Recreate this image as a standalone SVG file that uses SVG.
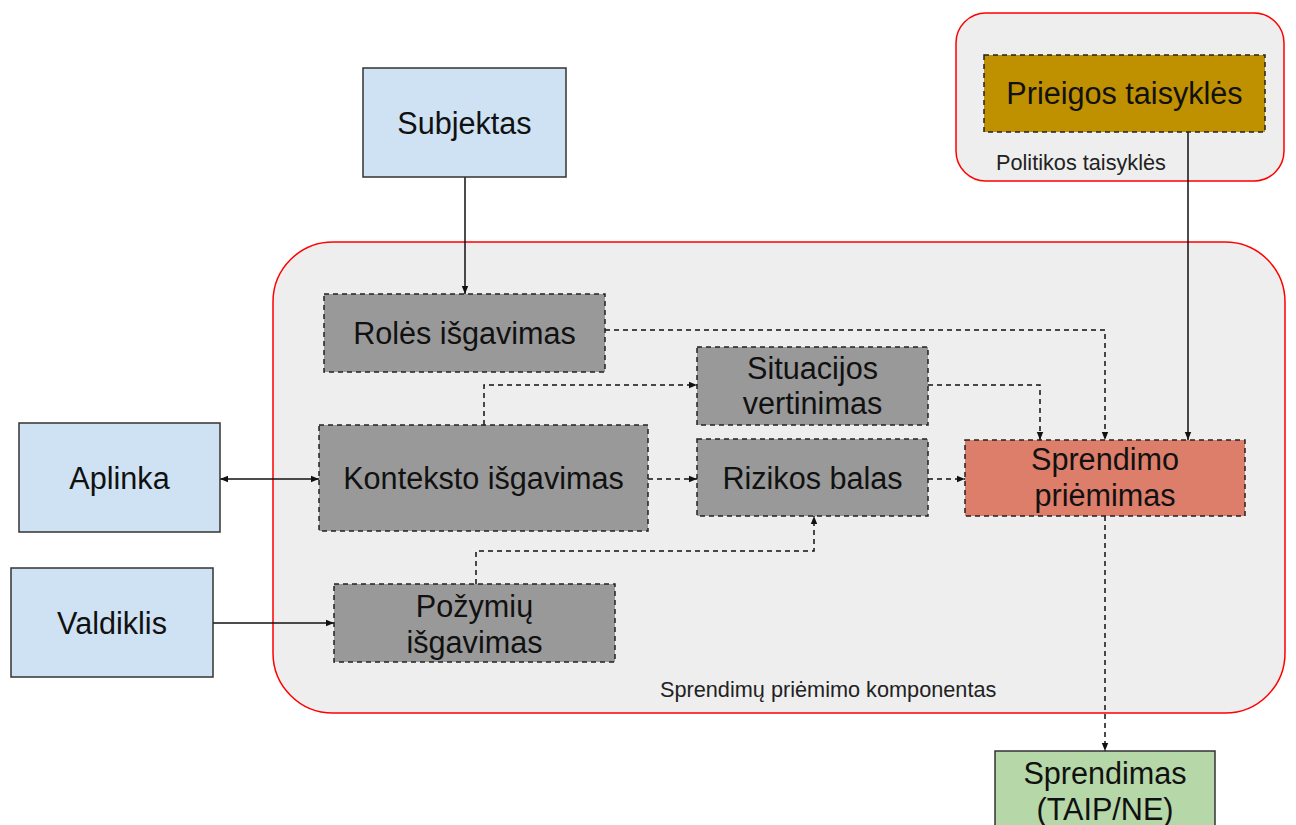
<svg xmlns="http://www.w3.org/2000/svg" width="1296" height="825" viewBox="0 0 1296 825">
<style>
.container{fill:#eeeeee;stroke:#ff0000;stroke-width:1.5}
.blue{fill:#cfe2f3;stroke:#333333;stroke-width:1.5}
.gray{fill:#999999;stroke:#222222;stroke-width:1.5;stroke-dasharray:5,4}
.gold{fill:#bf9000;stroke:#222222;stroke-width:1.5;stroke-dasharray:5,4}
.red{fill:#dd7e6b;stroke:#222222;stroke-width:1.5;stroke-dasharray:5,4}
.green{fill:#b6d7a8;stroke:#333333;stroke-width:1.5}
text{font-family:"Liberation Sans",Arial,sans-serif;fill:#111111}
.t{font-size:30.6px;text-anchor:middle}
.s{font-size:21.7px;fill:#222222}
.solid{fill:none;stroke:#111111;stroke-width:1.5}
.dash{fill:none;stroke:#111111;stroke-width:1.5;stroke-dasharray:5,4}
</style>
<defs>
<marker id="arr" viewBox="0 0 10 10" refX="10" refY="5" markerWidth="8" markerHeight="8" markerUnits="userSpaceOnUse" orient="auto-start-reverse">
<path d="M0,1 L10,5 L0,9 Z" fill="#111111"/>
</marker>
</defs>
<rect width="1296" height="825" fill="#ffffff"/>
<g id="container-politikos">
<rect class="container" x="956" y="13" width="328" height="168" rx="30"/>
<text class="s" x="996" y="170">Politikos taisyklės</text>
</g>
<g id="container-sprendimu">
<rect class="container" x="273" y="242" width="1012" height="471" rx="60"/>
<text class="s" x="660" y="697">Sprendimų priėmimo komponentas</text>
</g>
<g id="connectors">
<path class="solid" d="M465,177 V294" marker-end="url(#arr)"/>
<path class="dash" d="M605,330 H1105 V440" marker-end="url(#arr)"/>
<path class="dash" d="M484,425 V385 H697" marker-end="url(#arr)"/>
<path class="dash" d="M928,385 H1040 V440" marker-end="url(#arr)"/>
<path class="solid" d="M1188,132 V440" marker-end="url(#arr)"/>
<path class="solid" d="M220,479 H319" marker-start="url(#arr)" marker-end="url(#arr)"/>
<path class="dash" d="M648,479 H697" marker-end="url(#arr)"/>
<path class="dash" d="M928,479 H965" marker-end="url(#arr)"/>
<path class="dash" d="M476,584 V551 H814 V516" marker-end="url(#arr)"/>
<path class="solid" d="M213,623 H334" marker-end="url(#arr)"/>
<path class="dash" d="M1105,516 V751" marker-end="url(#arr)"/>
</g>
<g id="subjektas">
<rect class="blue" x="363" y="68" width="203" height="109"/>
<text class="t" x="464.5" y="134">Subjektas</text>
</g>
<g id="prieigos">
<rect class="gold" x="984" y="55" width="281" height="77"/>
<text class="t" x="1124.5" y="104">Prieigos taisyklės</text>
</g>
<g id="roles">
<rect class="gray" x="324" y="294" width="281" height="78"/>
<text class="t" x="464.5" y="344">Rolės išgavimas</text>
</g>
<g id="situacijos">
<rect class="gray" x="697" y="347" width="231" height="78"/>
<text class="t" x="812.5" y="379">Situacijos</text>
<text class="t" x="812.5" y="414">vertinimas</text>
</g>
<g id="konteksto">
<rect class="gray" x="319" y="425" width="329" height="106"/>
<text class="t" x="483.5" y="489">Konteksto išgavimas</text>
</g>
<g id="rizikos">
<rect class="gray" x="697" y="439" width="231" height="77"/>
<text class="t" x="812.5" y="489">Rizikos balas</text>
</g>
<g id="sprendimo">
<rect class="red" x="965" y="440" width="280" height="76"/>
<text class="t" x="1105" y="470">Sprendimo</text>
<text class="t" x="1105" y="506">priėmimas</text>
</g>
<g id="aplinka">
<rect class="blue" x="19" y="423" width="201" height="109"/>
<text class="t" x="119.5" y="489">Aplinka</text>
</g>
<g id="valdiklis">
<rect class="blue" x="11" y="568" width="202" height="109"/>
<text class="t" x="112" y="634">Valdiklis</text>
</g>
<g id="pozymiu">
<rect class="gray" x="334" y="584" width="281" height="78"/>
<text class="t" x="474.5" y="617">Požymių</text>
<text class="t" x="474.5" y="653">išgavimas</text>
</g>
<g id="sprendimas">
<rect class="green" x="995" y="751" width="220" height="110"/>
<text class="t" x="1105" y="784">Sprendimas</text>
<text class="t" x="1105" y="820">(TAIP/NE)</text>
</g>
</svg>
